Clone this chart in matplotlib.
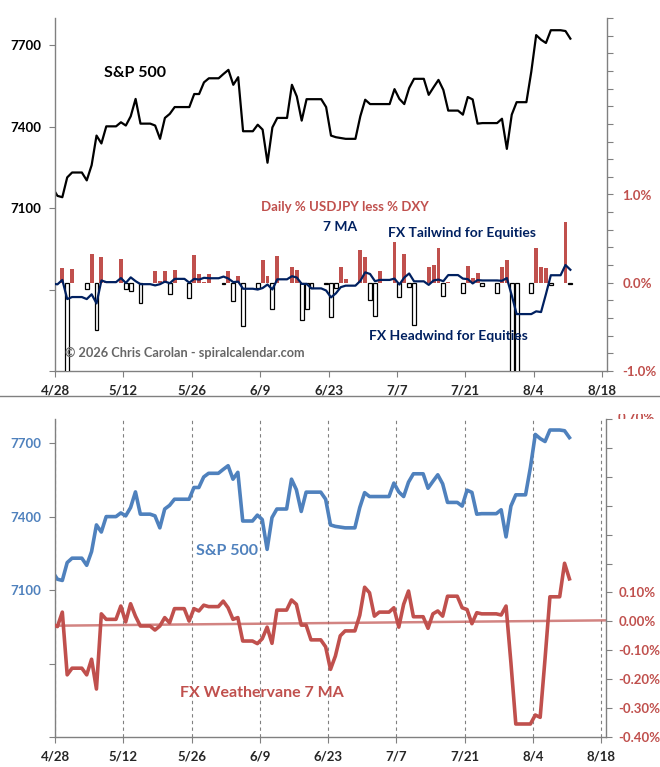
import datetime as dt
import numpy as np
import matplotlib
matplotlib.use('Agg')
import matplotlib.pyplot as plt
import matplotlib.dates as mdates
from matplotlib.ticker import FixedLocator, FuncFormatter
from matplotlib.lines import Line2D
from matplotlib.transforms import Bbox, TransformedBbox

plt.rcParams['font.family'] = ['Lato', 'DejaVu Sans']
plt.rcParams['font.weight'] = 'bold'

# ---------------- data (one value per calendar day from 2026-04-27) ----------------
start_date = dt.date(2026, 4, 27)

spx = [7175, 7145, 7140, 7213, 7231, 7231, 7231, 7202, 7258, 7367,
       7338, 7401, 7401, 7401, 7416, 7404, 7438, 7502, 7411, 7411,
       7411, 7404, 7355, 7432, 7447, 7472, 7472, 7472, 7472, 7520,
       7520, 7563, 7578, 7578, 7578, 7594, 7609, 7554, 7582, 7383,
       7383, 7383, 7407, 7389, 7267, 7397, 7432, 7432, 7432, 7554,
       7511, 7422, 7501, 7501, 7501, 7501, 7472, 7367, 7361, 7358,
       7355, 7355, 7355, 7438, 7499, 7483, 7483, 7483, 7483, 7483,
       7538, 7502, 7483, 7542, 7576, 7576, 7576, 7517, 7545, 7572,
       7535, 7459, 7459, 7459, 7444, 7509, 7500, 7411, 7413, 7413,
       7413, 7413, 7429, 7318, 7444, 7490, 7490, 7490, 7602, 7737,
       7720, 7708, 7755, 7755, 7755, 7752, 7724]

# Daily % USDJPY less % DXY (None = no session)
fx_daily = [0.085, 0.0, 0.167, -1.53, 0.155, None, None, -0.076, 0.326, -0.53,
            0.29, 0.01, None, None, 0.27, -0.076, -0.09, 0.0, -0.235, None,
            None, 0.136, 0.02, 0.136, -0.13, 0.148, None, None, -0.178, 0.314,
            0.098, 0.011, 0.098, None, None, -0.012, 0.13, -0.21, 0.076, -0.49,
            None, None, -0.064, 0.258, 0.076, -0.30, 0.30, None, None, 0.178,
            0.148, -0.42, -0.30, -0.064, None, None, -0.012, -0.39, -0.064, 0.18,
            0.045, None, None, 0.37, 0.29, -0.19, -0.38, 0.13, None, None,
            0.466, -0.16, 0.326, -0.045, -0.48, None, None, 0.178, 0.20, 0.39,
            -0.15, 0.01, None, None, -0.12, 0.19, 0.05, 0.11, -0.04, None,
            None, -0.12, 0.178, 0.258, -1.28, -1.52, None, None, -0.12, 0.39,
            0.178, 0.167, -0.03, None, None, 0.69, -0.012]

# FX Weathervane 7 MA (%)
fx_ma7 = [-0.010, -0.018, 0.032, -0.185, -0.162, -0.162, -0.162, -0.185, -0.131, -0.234,
          0.026, 0.007, 0.007, 0.007, 0.053, -0.002, 0.061, 0.018, -0.016, -0.016,
          -0.016, -0.030, -0.016, 0.013, -0.005, 0.044, 0.044, 0.044, 0.001, 0.044,
          0.036, 0.056, 0.051, 0.051, 0.051, 0.070, 0.047, 0.007, 0.013, -0.068,
          -0.068, -0.068, -0.077, -0.060, -0.020, -0.076, 0.039, 0.039, 0.039, 0.074,
          0.059, -0.013, -0.013, -0.064, -0.064, -0.064, -0.088, -0.166, -0.120, -0.050,
          -0.033, -0.033, -0.033, 0.021, 0.118, 0.099, 0.018, 0.032, 0.032, 0.032,
          0.047, -0.020, 0.059, 0.105, 0.016, 0.016, 0.016, -0.024, 0.026, 0.036,
          0.018, 0.087, 0.087, 0.087, 0.047, 0.041, -0.008, 0.030, 0.026, 0.026,
          0.026, 0.026, 0.022, 0.053, -0.143, -0.355, -0.355, -0.355, -0.355, -0.324,
          -0.332, -0.129, 0.085, 0.085, 0.085, 0.201, 0.147]

zero_trend = [-0.015, 0.0035]   # reference line (start, end)

axis_start = dt.date(2026, 4, 28)
axis_end = dt.date(2026, 8, 19)
x_tick_labels = ['4/28', '5/12', '5/26', '6/9', '6/23', '7/7', '7/21', '8/4', '8/18']
spx_ticks = [6500, 6800, 7100, 7400, 7700]
spx_labelled_min = 7100

# ---------------- colours ----------------
RED = '#C0504D'
NAVY = '#002060'
BLUE = '#4F81BD'
GRAY = '#808080'
TXT = '#262626'

dates = [start_date + dt.timedelta(days=i) for i in range(len(spx))]
xs = mdates.date2num(dates) + 0.5
x0 = mdates.date2num(axis_start)
x1 = mdates.date2num(axis_end)
xticks = [x0 + 14 * i for i in range(len(x_tick_labels))]

fx_arr = np.array([np.nan if v is None else v for v in fx_daily])
pos = fx_arr > 0
neg = fx_arr < 0

W, H = 660, 767
fig = plt.figure(figsize=(W / 100, H / 100), dpi=100)


def fx_px(px):
    return px / W


def fy_px(py):
    return 1 - py / H


def clean(v):
    return 0.0 if abs(v) < 1e-9 else v


def style_axes(ax, axr, lcolor, rcolor):
    for a in (ax, axr):
        a.spines['top'].set_visible(False)
        for s in ('left', 'right', 'bottom'):
            a.spines[s].set_color(GRAY)
            a.spines[s].set_linewidth(1.0)
    ax.spines['right'].set_visible(False)
    axr.spines['left'].set_visible(False)
    axr.spines['bottom'].set_visible(False)
    ax.tick_params(axis='y', direction='out', length=4, color=GRAY, pad=6,
                   labelsize=9.5, labelcolor=lcolor)
    axr.tick_params(axis='y', direction='out', length=4, color=GRAY, pad=6,
                    labelsize=9.5, labelcolor=rcolor)
    ax.tick_params(axis='x', direction='out', length=4, color=GRAY, pad=6,
                   labelsize=9.5, labelcolor=TXT)
    ax.set_xlim(x0, x1)
    ax.xaxis.set_major_locator(FixedLocator(xticks))
    ax.xaxis.set_major_formatter(FuncFormatter(
        lambda v, p: x_tick_labels[int(round((v - x0) / 14))]
        if 0 <= int(round((v - x0) / 14)) < len(x_tick_labels) else ''))
    ax.set_ylim(6500, 7800)
    ax.yaxis.set_major_locator(FixedLocator(spx_ticks))
    ax.yaxis.set_major_formatter(FuncFormatter(
        lambda v, p: f'{v:.0f}' if v >= spx_labelled_min else ''))


# ================= top chart =================
ax1 = fig.add_axes([fx_px(55), fy_px(371), fx_px(552), (371 - 18) / H])
ax1.plot(xs, spx, color='black', lw=1.6)
ax1r = ax1.twinx()
ax1r.bar(xs[pos], fx_arr[pos], width=0.8, color=RED, zorder=2)
ax1r.bar(xs[neg], fx_arr[neg], width=0.8, facecolor='white', edgecolor='black',
         lw=0.9, zorder=2)
ax1r.plot(xs, fx_ma7, color=NAVY, lw=1.6, zorder=3)
ax1r.set_ylim(-1.0, 3.0)
ax1r.yaxis.set_major_locator(FixedLocator(np.round(np.arange(-1.0, 3.01, 0.2), 2)))
ax1r.yaxis.set_major_formatter(FuncFormatter(
    lambda v, p: f'{clean(v):.1f}%' if abs(v - round(v)) < 1e-6 and v <= 1.0001 else ''))
style_axes(ax1, ax1r, 'black', RED)
ax1r.tick_params(axis='y', pad=7)

# ================= bottom chart =================
ax2 = fig.add_axes([fx_px(55), fy_px(737), fx_px(551), (737 - 419) / H])
ax2.grid(axis='x', linestyle=(0, (3, 3)), color=GRAY, lw=0.8)
ax2.set_axisbelow(True)
ax2.plot(xs, spx, color=BLUE, lw=2.6)
ax2r = ax2.twinx()
ax2r.plot([x0, x1], zero_trend, color=RED, lw=1.8, alpha=0.7)
ax2r.plot(xs, fx_ma7, color=RED, lw=2.6)
ax2r.set_ylim(-0.4, 0.7)
ax2r.yaxis.set_major_locator(FixedLocator(np.round(np.arange(-0.4, 0.701, 0.1), 2)))
ax2r.yaxis.set_major_formatter(FuncFormatter(
    lambda v, p: f'{clean(v):.2f}%' if v <= 0.1001 else ''))
style_axes(ax2, ax2r, BLUE, RED)
ax2r.tick_params(axis='y', pad=5)

# partially hidden top label of the right axis
clip = TransformedBbox(Bbox([[0, fy_px(419.5)], [1, fy_px(413.5)]]), fig.transFigure)
t = fig.text(fx_px(618), fy_px(417.5), '0.70%', color=RED, fontsize=9.5,
             fontweight='bold', va='center', ha='left')
t.set_clip_box(clip)
t.set_clip_on(True)

# separator between the two panels
fig.add_artist(Line2D([0, 1], [fy_px(396)] * 2, transform=fig.transFigure,
                      color=GRAY, lw=1.0))

# ---------------- annotations ----------------
def label(px, py, s, color, size=10.5, ha='left'):
    fig.text(fx_px(px), fy_px(py), s, color=color, fontsize=size,
             fontweight='bold', ha=ha, va='center')

label(104, 73, 'S&P 500', 'black', 11.5)
label(261, 207, 'Daily % USDJPY less % DXY', RED, 9.5)
label(323, 227, '7 MA', NAVY, 10)
label(388, 233, 'FX Tailwind for Equities', NAVY, 10)
label(369, 336, 'FX Headwind for Equities', NAVY, 10)
label(65, 353, '\u00a9 2026 Chris Carolan - spiralcalendar.com', '#666666', 9.2)
label(196, 551, 'S&P 500', BLUE, 11.5)
label(180, 693, 'FX Weathervane 7 MA', RED, 11.5)

fig.savefig('out.png', dpi=100)
